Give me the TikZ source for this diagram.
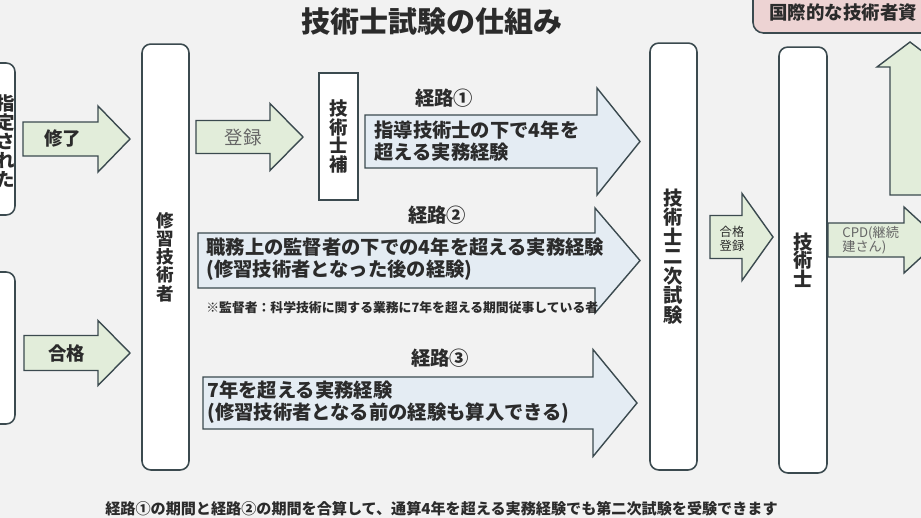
\documentclass[tikz,border=0pt]{standalone}
\usepackage{fontspec}
\setmainfont{Noto Sans CJK JP}
\usetikzlibrary{positioning}
\definecolor{bggray}{HTML}{F2F2F2}
\definecolor{edgegray}{HTML}{3B4A4F}
\definecolor{lightgreen}{HTML}{E2EDDA}
\definecolor{lightblue}{HTML}{E4ECF3}
\definecolor{lightpink}{HTML}{EDD3D3}
\definecolor{textdark}{HTML}{2B2B2B}
\definecolor{softgray}{HTML}{666666}

% block arrow: [style] x0, head base x, tip x, centre y, body half, head half
\newcommand{\blockarrow}[7][]{%
  \draw[#1] (#2,#5-#6) -- (#3,#5-#6) -- (#3,#5-#7) -- (#4,#5) -- (#3,#5+#7) -- (#3,#5+#6) -- (#2,#5+#6) -- cycle;}

\begin{document}
\begin{tikzpicture}[
    x=0.02cm, y=-0.02cm,
    tallbox/.style={draw=edgegray, line width=0.9pt, fill=white, rounded corners=5pt, inner sep=0pt},
    greenarrow/.style={draw=edgegray, line width=0.8pt, fill=lightgreen},
    bluearrow/.style={draw=edgegray, line width=0.8pt, fill=lightblue},
    vtext/.style={align=center, text=textdark, font=\bfseries\fontsize{10.5}{10.6}\selectfont},
    lbl/.style={text=textdark, font=\bfseries\fontsize{10.5}{12}\selectfont, inner sep=1pt},
    routetext/.style={anchor=west, align=left, text=textdark, font=\bfseries\fontsize{11}{12.6}\selectfont, inner sep=0pt},
    smalltext/.style={align=left, text=softgray, font=\fontsize{7.5}{8.2}\selectfont, inner sep=0pt}
]

\fill[bggray] (0,0) rectangle (921,518);
\clip (0,0) rectangle (921,518);

% Title
\node[text=textdark, font=\bfseries\fontsize{16.5}{18}\selectfont] (title) at (432,22) {技術士試験の仕組み};

% Left boxes (cut off)
\node[tallbox, minimum width=0.9cm, minimum height=3.04cm] (shitei) at (-7.5,139) {};
\node[vtext, font=\bfseries\fontsize{10.5}{10.8}\selectfont] (shiteitext) at (6,141) {指\\定\\さ\\れ\\た};
\node[tallbox, minimum width=0.9cm, minimum height=3.04cm] (shiken1) at (-7.5,348) {};

% Tall boxes
\node[tallbox, minimum width=0.94cm, minimum height=8.52cm, vtext, font=\bfseries\fontsize{10}{10.4}\selectfont] (shushu) at (165.5,257) {修\\習\\技\\術\\者};
\node[tallbox, rounded corners=0pt, line width=0.8pt, minimum width=0.78cm, minimum height=2.54cm, vtext] (gishiho) at (338.5,136.5) {技\\術\\士\\補};
\node[tallbox, minimum width=0.94cm, minimum height=8.54cm, vtext, font=\bfseries\fontsize{11}{11.1}\selectfont] (niji) at (673.5,256.5) {技\\術\\士\\二\\次\\試\\験};
\node[tallbox, minimum width=0.96cm, minimum height=8.52cm, vtext, font=\bfseries\fontsize{11}{10.6}\selectfont] (gishi) at (803,260) {技\\術\\士};

% International box
\draw[draw=edgegray, line width=0.9pt, fill=lightpink, rounded corners=6pt] (753,-20) rectangle (960,33);
\node[text=textdark, font=\bfseries\fontsize{10.5}{12}\selectfont, anchor=west, inner sep=0pt] (kokusai) at (769,13) {国際的な技術者資};

% Green arrows
\blockarrow[greenarrow]{23}{98}{130}{139}{17}{33}
\node[lbl] (shuryo) at (63,138) {修了};
\blockarrow[greenarrow]{24}{98}{130}{353}{17.5}{32.5}
\node[lbl] (gokaku) at (67,353) {合格};
\blockarrow[greenarrow]{196}{270}{303}{137}{16.5}{33.5}
\node[lbl, text=softgray, font=\fontsize{10.5}{12}\selectfont] (toroku) at (243,137) {登録};
\blockarrow[greenarrow]{710}{742}{773}{237}{21.5}{43.5}
\node[smalltext, text=textdark, font=\fontsize{7}{8}\selectfont] (gokakutoroku) at (732,239) {合格\\登録};
\blockarrow[greenarrow]{828}{904}{940}{240}{17}{33}
\node[smalltext, anchor=west] (cpd) at (842,240.5) {CPD(継続\\建さん)};
\draw[greenarrow] (890,195) -- (890,67) -- (877,67) -- (910,42) -- (943,67) -- (930,67) -- (930,195) -- cycle;

% Routes
\blockarrow[bluearrow]{365}{597}{640}{141.5}{26.5}{53.5}
\node[lbl, font=\bfseries\fontsize{11}{12}\selectfont] (keiro1) at (444,98) {経路①};
\node[routetext] (keiro1txt) at (374,141) {指導技術士の下で4年を\\超える実務経験};

\blockarrow[bluearrow]{198}{595}{640}{260.5}{27.5}{52.5}
\node[lbl, font=\bfseries\fontsize{11}{12}\selectfont] (keiro2) at (437,215) {経路②};
\node[routetext] (keiro2txt) at (206,259) {職務上の監督者の下での4年を超える実務経験\\(修習技術者となった後の経験)};
\node[smalltext, anchor=west, text=textdark, font=\bfseries\fontsize{7.3}{8}\selectfont] (kantoku) at (206,308) {※監督者：科学技術に関する業務に7年を超える期間従事している者};

\blockarrow[bluearrow]{203}{593}{637}{403}{26}{53.5}
\node[lbl, font=\bfseries\fontsize{11}{12}\selectfont] (keiro3) at (440,358) {経路③};
\node[routetext] (keiro3txt) at (207,402) {7年を超える実務経験\\(修習技術者となる前の経験も算入できる)};

% Note at bottom
\node[text=textdark, font=\bfseries\fontsize{8.6}{10}\selectfont] (gassan) at (441.5,509) {経路①の期間と経路②の期間を合算して、通算4年を超える実務経験でも第二次試験を受験できます};

\end{tikzpicture}
\end{document}
